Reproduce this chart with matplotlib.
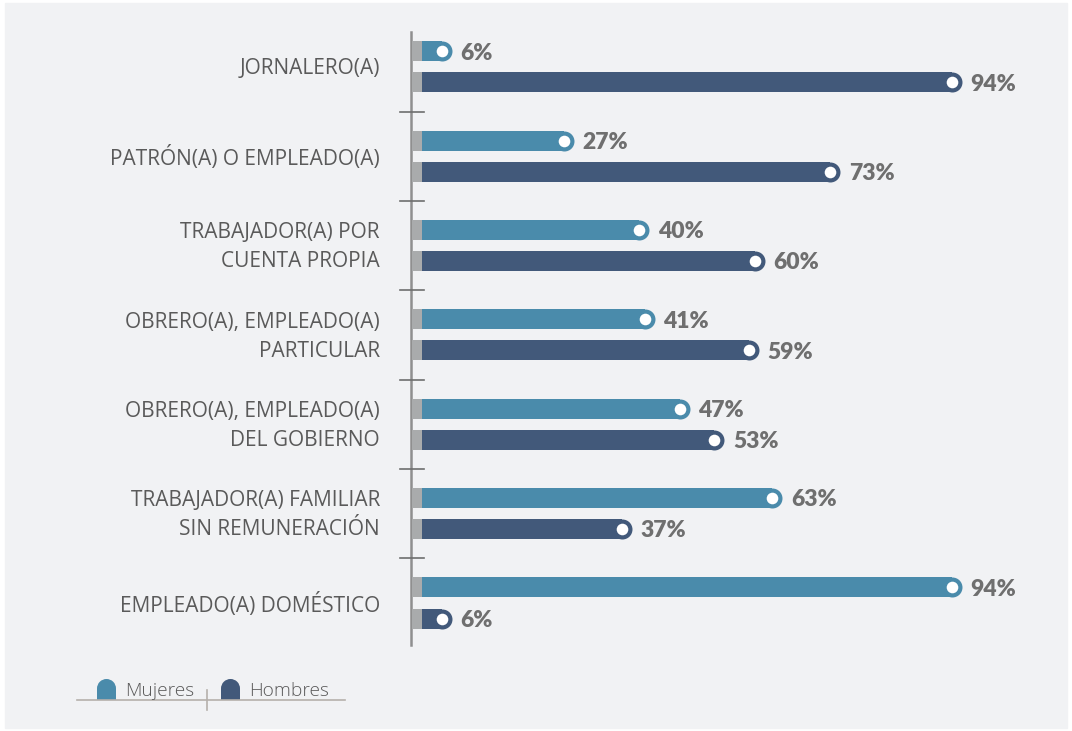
import numpy as np
import matplotlib.pyplot as plt
from matplotlib.patches import Rectangle, Circle

categorias = ["JORNALERO(A)", "PATRÓN(A) O EMPLEADO(A)", "TRABAJADOR(A) POR\nCUENTA PROPIA",
              "OBRERO(A), EMPLEADO(A)\nPARTICULAR", "OBRERO(A), EMPLEADO(A)\nDEL GOBIERNO",
              "TRABAJADOR(A) FAMILIAR\nSIN REMUNERACIÓN", "EMPLEADO(A) DOMÉSTICO"]
mujeres = [6, 27, 40, 41, 47, 63, 94]
hombres = [94, 73, 60, 59, 53, 37, 6]

c_muj = "#4a8bab"
c_hom = "#42597a"
c_stub = "#a9abac"
c_txt = "#5a5a5a"
c_val = "#6f6f6f"
fondo = "#f1f2f4"

plt.rcParams['font.family'] = ['Lato', 'DejaVu Sans']

fig = plt.figure(figsize=(10.72, 7.31), dpi=100, facecolor="white")

# capa de fondo en pixeles
bg = fig.add_axes([0, 0, 1, 1], zorder=-1)
bg.set_xlim(0, 1072)
bg.set_ylim(731, 0)
bg.axis("off")
bg.add_patch(Rectangle((5, 3), 1062, 725, color=fondo))

# leyenda
bg.plot([77, 345], [700, 700], color="#b5b0ab", lw=1.2)
bg.plot([207, 207], [690, 710], color="#b5b0ab", lw=1.2)
for x0, col, nombre in [(97, c_muj, "Mujeres"), (221, c_hom, "Hombres")]:
    bg.add_patch(Rectangle((x0, 688.5), 19, 11.5, color=col, lw=0))
    bg.add_patch(Circle((x0 + 9.5, 688.5), 9.5, color=col, lw=0))
    bg.text(x0 + 28, 691, nombre, fontsize=13.8, color=c_txt, va="center", ha="left",
            family=["Open Sans", "DejaVu Sans"], fontweight="light")

# grafica principal
ax = fig.add_axes([411 / 1072, (731 - 645) / 731, 629 / 1072, 613 / 731])
ax.set_facecolor("none")
px = 5.795  # pixeles por punto porcentual
x0 = 417.2
ax.set_xlim((411 - x0) / px, (1040 - x0) / px)
ax.set_ylim(6.47, -0.39)

y = np.arange(len(categorias))
off = 0.174
h = 0.224
izq = (412 - x0) / px
r = 10 / px

for serie, col, dy in [(mujeres, c_muj, -off), (hombres, c_hom, off)]:
    vals = np.array(serie)
    ax.barh(y + dy, vals - r - izq, left=izq, height=h, color=col, lw=0, zorder=2)
    ax.barh(y + dy, (422 - 412) / px, left=izq, height=h, color=c_stub, lw=0, zorder=3)
    ax.scatter(vals - r, y + dy, s=207, color=col, lw=0, zorder=4)
    ax.scatter(vals - r, y + dy, s=70, color="white", lw=0, zorder=5)
    for v, yy in zip(vals, y + dy):
        ax.text(v + 1.5, yy + 0.02, f"{v}%", fontsize=16.5, fontweight="heavy",
                color=c_val, va="center", ha="left")

for i, cat in enumerate(categorias):
    ax.text((380 - x0) / px, i + 0.02, cat, fontsize=15, color=c_txt,
            ha="right", va="center", linespacing=1.5, clip_on=False,
            family=["Open Sans", "DejaVu Sans"])

for b in y[:-1] + 0.5:
    ax.plot([(400 - x0) / px, (424 - x0) / px], [b, b], color="#6e6e6e",
            lw=1.2, clip_on=False, zorder=6)

for s in ["top", "right", "bottom"]:
    ax.spines[s].set_visible(False)
ax.spines["left"].set_color("#8f8f8f")
ax.spines["left"].set_linewidth(1.8)
ax.set_xticks([])
ax.set_yticks([])

fig.savefig("out.png", dpi=100, facecolor="white")
